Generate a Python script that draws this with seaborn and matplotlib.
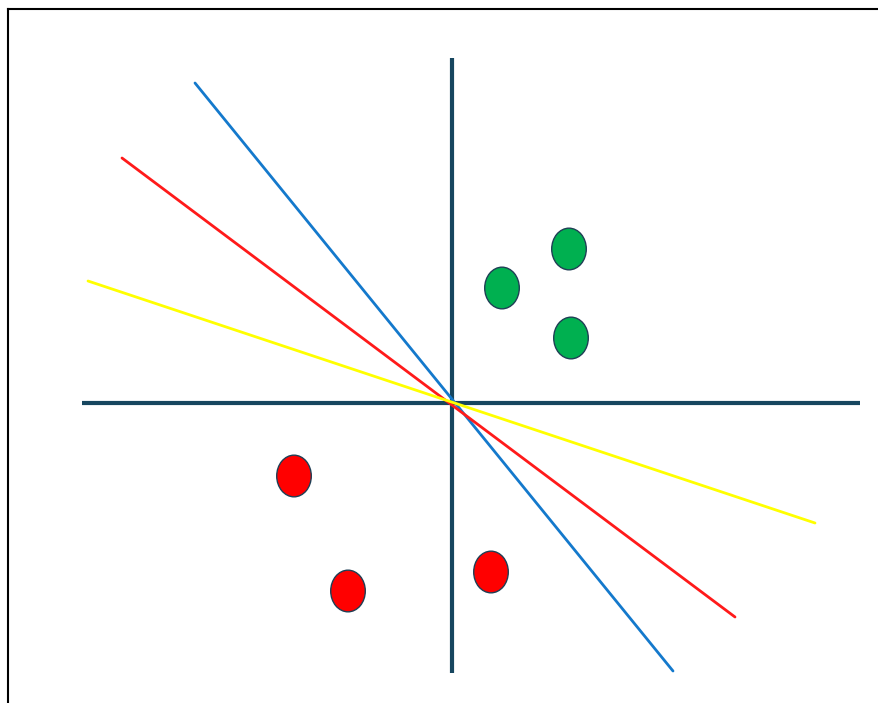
import matplotlib
matplotlib.use("Agg")
import matplotlib.pyplot as plt
import seaborn as sns
import pandas as pd
from matplotlib.path import Path
from matplotlib.transforms import Affine2D

# Two classes of points around the origin
green_x = [50, 117, 119]
green_y = [115, 154, 65]
red_x = [-158, -104, 39]
red_y = [-73, -188, -169]

# Coordinate axes (extent of each)
h_axis_x = [-370, 408]
v_axis_y = [-270, 345]

# Candidate separating lines through the origin: end points
blue_x = [-257, 221]
blue_y = [320, -268]
red_line_x = [-330, 283]
red_line_y = [245, -214]
yellow_x = [-364, 363]
yellow_y = [122, -120]

points = pd.DataFrame({
    "x": green_x + red_x,
    "y": green_y + red_y,
    "cls": ["pos"] * len(green_x) + ["neg"] * len(red_x),
})

sns.set_style("white")
fig = plt.figure(figsize=(8.79, 7.03), dpi=100)
ax = fig.add_axes([8 / 879, 0, 1, 1 - 9 / 703])
ax.set_xlim(-444, 435)
ax.set_ylim(-300, 394)

axis_color = "#17465f"
ax.plot(h_axis_x, [0, 0], color=axis_color, lw=3.0, solid_capstyle="butt", zorder=1)
ax.plot([0, 0], v_axis_y, color=axis_color, lw=3.0, solid_capstyle="butt", zorder=1)

ax.plot(blue_x, blue_y, color="#1479cc", lw=2.0, zorder=2)
ax.plot(red_line_x, red_line_y, color="#ff1a1a", lw=2.0, zorder=2)
ax.plot(yellow_x, yellow_y, color="#ffff00", lw=2.0, zorder=2)

# Slightly tall ellipse marker
ellipse = Path.unit_circle().transformed(Affine2D().scale(0.83, 1.0))
sns.scatterplot(
    data=points, x="x", y="y", hue="cls",
    palette={"pos": "#00b050", "neg": "#ff0000"},
    marker=ellipse, s=900, edgecolor="#1f3f55", linewidth=1.0,
    legend=False, ax=ax, zorder=3,
)

ax.set_xticks([])
ax.set_yticks([])
ax.set_xlabel("")
ax.set_ylabel("")
for side in ("right", "bottom"):
    ax.spines[side].set_visible(False)
for side in ("left", "top"):
    ax.spines[side].set_color("black")
    ax.spines[side].set_linewidth(1.5)

fig.savefig("out.png", dpi=100, facecolor="white")
